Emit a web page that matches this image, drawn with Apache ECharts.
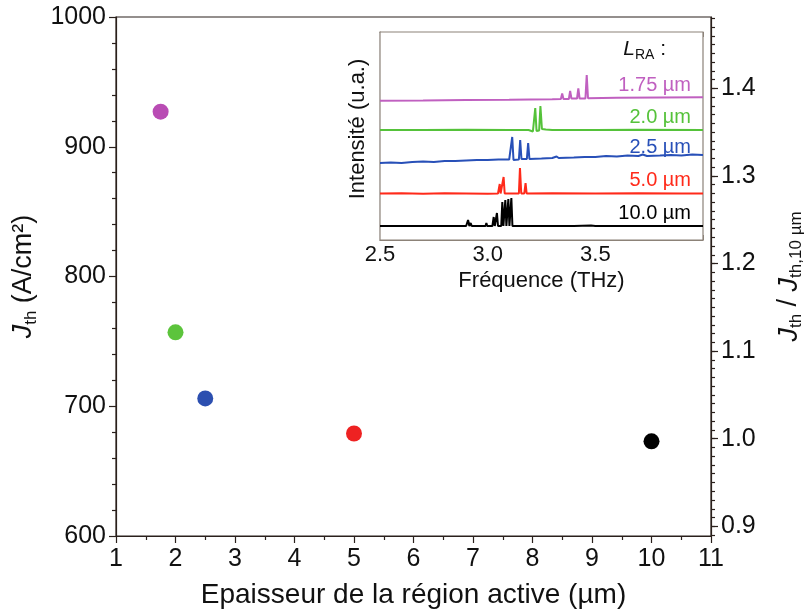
<!DOCTYPE html>
<html>
<head>
<meta charset="utf-8">
<script src="https://cdn.jsdelivr.net/npm/echarts@6/dist/echarts.min.js"></script>
<style>html,body{margin:0;padding:0;background:#fff;}#c{width:806px;height:611px;}</style>
</head>
<body>
<div id="c"></div>
<script>
// ---- Main chart data ----
var thickness = [1.75, 2.0, 2.5, 5.0, 10.0];
var jth = [927, 757, 706, 679, 673];
var pointColors = ['#b94cb4', '#5cc43c', '#2c4fb0', '#ee2222', '#000000'];
var jRef = 675; // J_th at 10 µm (right axis = J_th / J_th,10µm)
var rightTicks = [0.9, 1.0, 1.1, 1.2, 1.3, 1.4];
var rightMinorTicks = [0.89,0.9,0.91,0.92,0.93,0.94,0.95,0.96,0.97,0.98,0.99,1.0,1.01,1.02,1.03,1.04,1.05,1.06,1.07,1.08,1.09,1.1,1.11,1.12,1.13,1.14,1.15,1.16,1.17,1.18,1.19,1.2,1.21,1.22,1.23,1.24,1.25,1.26,1.27,1.28,1.29,1.3,1.31,1.32,1.33,1.34,1.35,1.36,1.37,1.38,1.39,1.4,1.41,1.42,1.43,1.44,1.45,1.46,1.47,1.48];

// ---- Inset spectra (frequency THz, offset intensity a.u.) ----
var spec10 = [[2.5,14],[2.90,14],[2.909,20],[2.915,14],[2.918,14],[2.921,17],[2.926,14],[2.99,14],[2.994,17],[2.998,14],[3.022,14],[3.028,23],[3.033,14],[3.038,14],[3.043,27],[3.048,14],[3.063,14],[3.068,38],[3.073,14],[3.077,14],[3.082,40],[3.087,14],[3.091,14],[3.096,41],[3.101,14],[3.105,14],[3.110,42],[3.115,14],[3.40,14],[3.48,14.5],[3.50,14],[4.0,14]];
var spec5 = [[2.5,46.5],[2.6,46.8],[2.7,46.3],[2.8,46.7],[2.9,46.5],[3.0,46.3],[3.048,46.5],[3.052,46.5],[3.056,56],[3.060,46.5],[3.069,46.5],[3.074,63],[3.079,46.5],[3.145,46.5],[3.150,72],[3.156,46.5],[3.170,46.5],[3.176,57],[3.181,46.5],[3.3,46.7],[3.5,46.5],[3.7,46.7],[3.9,46.5],[4.0,46.5]];
var spec25 = [[2.5,77],[2.55,77.5],[2.6,77],[2.65,78],[2.7,78.5],[2.75,78],[2.8,79],[2.85,79],[2.9,79.5],[2.95,80],[3.0,80],[3.05,80.5],[3.10,80.5],[3.108,80],[3.114,103],[3.120,80],[3.145,80.5],[3.151,100],[3.157,81],[3.182,81],[3.188,97],[3.194,81],[3.25,81.5],[3.30,82],[3.32,83.5],[3.33,82],[3.40,82.5],[3.45,83],[3.50,83],[3.55,84],[3.60,83.5],[3.65,84.5],[3.70,84],[3.72,85.5],[3.74,84],[3.80,84.5],[3.85,85],[3.90,84.5],[3.95,85.5],[4.0,85]];
var spec20 = [[2.5,110],[2.7,110],[2.9,110.3],[3.1,110],[3.19,110],[3.21,108.5],[3.216,108.5],[3.221,132],[3.227,109],[3.239,109.5],[3.245,134],[3.252,111],[3.27,110.5],[3.3,110],[3.5,110],[3.7,110.2],[4.0,110]];
var spec175 = [[2.5,139.3],[2.7,139.5],[2.9,140],[3.1,140.3],[3.3,140.8],[3.340,141],[3.346,146.5],[3.352,141],[3.377,141],[3.383,149],[3.389,141.5],[3.415,141.5],[3.421,151.5],[3.427,141.5],[3.454,141.5],[3.460,165],[3.466,141.8],[3.6,142.2],[3.8,142.5],[4.0,142.7]];
var specLabels = ['1.75 µm', '2.0 µm', '2.5 µm', '5.0 µm', '10.0 µm'];
var specColors = ['#c060c0', '#55c23a', '#2850b8', '#ff2a1a', '#000000'];
var insetTicks = [2.5, 3.0, 3.5];

var FONT = 'Liberation Sans, Arial, sans-serif';
var axisColor = '#2a201c';
var insetColor = '#8c8279';

var chart = echarts.init(document.getElementById('c'), null, {renderer: 'canvas'});

var specs = [spec175, spec20, spec25, spec5, spec10];
var series = [];
series.push({
  type: 'scatter', xAxisIndex: 0, yAxisIndex: 0, symbolSize: 16, z: 5,
  data: thickness.map(function (t, i) {
    return {value: [t, jth[i]], itemStyle: {color: pointColors[i], opacity: 1}};
  })
});
specs.forEach(function (s, i) {
  series.push({
    type: 'line', xAxisIndex: 1, yAxisIndex: 3, data: s, showSymbol: false,
    lineStyle: {color: specColors[i], width: 2}, z: 10, silent: true
  });
});

var subRich = {
  i: {fontStyle: 'italic', fontSize: 27, fontFamily: FONT, color: '#111', lineHeight: 32},
  n: {fontSize: 27, fontFamily: FONT, color: '#111', lineHeight: 32},
  s: {fontSize: 17, fontFamily: FONT, color: '#111', verticalAlign: 'bottom', lineHeight: 17}
};

var option = {
  backgroundColor: '#fff',
  animation: false,
  grid: [
    {left: 116, right: 95, top: 17, bottom: 75, containLabel: false, outerBoundsMode: 'none',
      show: true, borderColor: axisColor, borderWidth: 1.2, backgroundColor: 'transparent'},
    {left: 380, right: 103, top: 32, bottom: 371, containLabel: false, outerBoundsMode: 'none',
      show: true, borderColor: insetColor, borderWidth: 1.2, backgroundColor: '#fff', z: 8}
  ],
  xAxis: [
    {
      gridIndex: 0, type: 'value', min: 1, max: 11, interval: 1,
      name: 'Epaisseur de la région active (µm)', nameLocation: 'middle', nameGap: 45,
      nameTextStyle: {fontSize: 28, fontFamily: FONT, color: '#111'},
      axisLine: {lineStyle: {color: axisColor, width: 1.2}},
      axisTick: {inside: false, length: 7, lineStyle: {color: axisColor, width: 1.2}},
      minorTick: {show: true, splitNumber: 2, length: 4, lineStyle: {color: axisColor, width: 1.2}},
      splitLine: {show: false},
      axisLabel: {fontSize: 25, fontFamily: FONT, color: '#111', margin: 11}
    },
    {
      gridIndex: 1, type: 'value', min: 2.5, max: 4.0, interval: 0.5, position: 'bottom',
      name: 'Fréquence (THz)', nameLocation: 'middle', nameGap: 30,
      nameTextStyle: {fontSize: 22, fontFamily: FONT, color: '#111'},
      axisLine: {lineStyle: {color: insetColor, width: 1.2}},
      axisTick: {inside: true, length: 5, lineStyle: {color: insetColor}},
      minorTick: {show: true, splitNumber: 10, length: 4, lineStyle: {color: insetColor}},
      splitLine: {show: false},
      axisLabel: {fontSize: 22, fontFamily: FONT, color: '#111', margin: 4,
        customValues: insetTicks, formatter: function (v) { return v.toFixed(1); }}
    },
    {
      gridIndex: 1, type: 'value', min: 2.5, max: 4.0, interval: 0.5, position: 'top',
      axisLine: {lineStyle: {color: insetColor, width: 1.2}},
      axisTick: {inside: true, length: 5, lineStyle: {color: insetColor}},
      minorTick: {show: true, splitNumber: 10, length: 4, lineStyle: {color: insetColor}},
      splitLine: {show: false}, axisLabel: {show: false}
    }
  ],
  yAxis: [
    {
      gridIndex: 0, type: 'value', min: 600, max: 1000, interval: 100, position: 'left',
      name: '{i|J}{s|th}{n| (A/cm²)}', nameLocation: 'middle', nameGap: 62, nameRotate: 90,
      nameTextStyle: {rich: subRich},
      axisLine: {show: true, lineStyle: {color: axisColor, width: 1.2}},
      axisTick: {inside: false, length: 7, lineStyle: {color: axisColor, width: 1.2}},
      minorTick: {show: true, splitNumber: 5, length: 4, lineStyle: {color: axisColor, width: 1.2}},
      splitLine: {show: false},
      axisLabel: {fontSize: 25, fontFamily: FONT, color: '#111', margin: 10,
        formatter: function (v) { return String(v); }}
    },
    {
      gridIndex: 0, type: 'value', min: 600 / jRef, max: 1000 / jRef, position: 'right',
      name: '{i|J}{s|th}{n| / }{i|J}{s|th,10 µm}', nameLocation: 'middle', nameGap: 62, nameRotate: 90,
      nameTextStyle: {rich: subRich},
      axisLine: {show: true, lineStyle: {color: axisColor, width: 1.2}},
      axisTick: {inside: false, length: 7, customValues: rightTicks, lineStyle: {color: axisColor, width: 1.2}},
      splitLine: {show: false},
      axisLabel: {fontSize: 25, fontFamily: FONT, color: '#111', margin: 10, customValues: rightTicks,
        formatter: function (v) { return v.toFixed(1); }}
    },
    {
      gridIndex: 0, type: 'value', min: 600 / jRef, max: 1000 / jRef, position: 'right',
      axisLine: {show: false},
      axisTick: {inside: false, length: 4, customValues: rightMinorTicks, lineStyle: {color: axisColor, width: 1.2}},
      splitLine: {show: false}, axisLabel: {show: false}
    },
    {
      gridIndex: 1, type: 'value', min: 0, max: 208,
      name: 'Intensité (u.a.)', nameLocation: 'middle', nameGap: 11, nameRotate: 90,
      nameTextStyle: {fontSize: 22, fontFamily: FONT, color: '#111', padding: [0, 0, 0, 14]},
      axisLine: {show: true, lineStyle: {color: insetColor, width: 1.2}},
      axisTick: {show: false}, splitLine: {show: false}, axisLabel: {show: false}
    }
  ],
  graphic: [
    {type: 'text', right: 806 - 666, top: 55 - 16, z: 20,
      style: {rich: {
        i: {fontStyle: 'italic', fontSize: 21, fontFamily: FONT, fill: '#111', lineHeight: 26},
        n: {fontSize: 21, fontFamily: FONT, fill: '#111', lineHeight: 26},
        s: {fontSize: 14, fontFamily: FONT, fill: '#111', verticalAlign: 'bottom', lineHeight: 14}
      }, text: '{i|L}{s|RA}{n| :}'}}
  ].concat(specLabels.map(function (lab, i) {
    var ys = [85, 117, 147, 180, 213];
    return {type: 'text', z: 20, x: 691, y: ys[i],
      style: {text: lab, fontSize: 20, fontFamily: FONT, fill: specColors[i], align: 'right', verticalAlign: 'middle'}};
  })),
  series: series
};
chart.setOption(option);
</script>
</body>
</html>
